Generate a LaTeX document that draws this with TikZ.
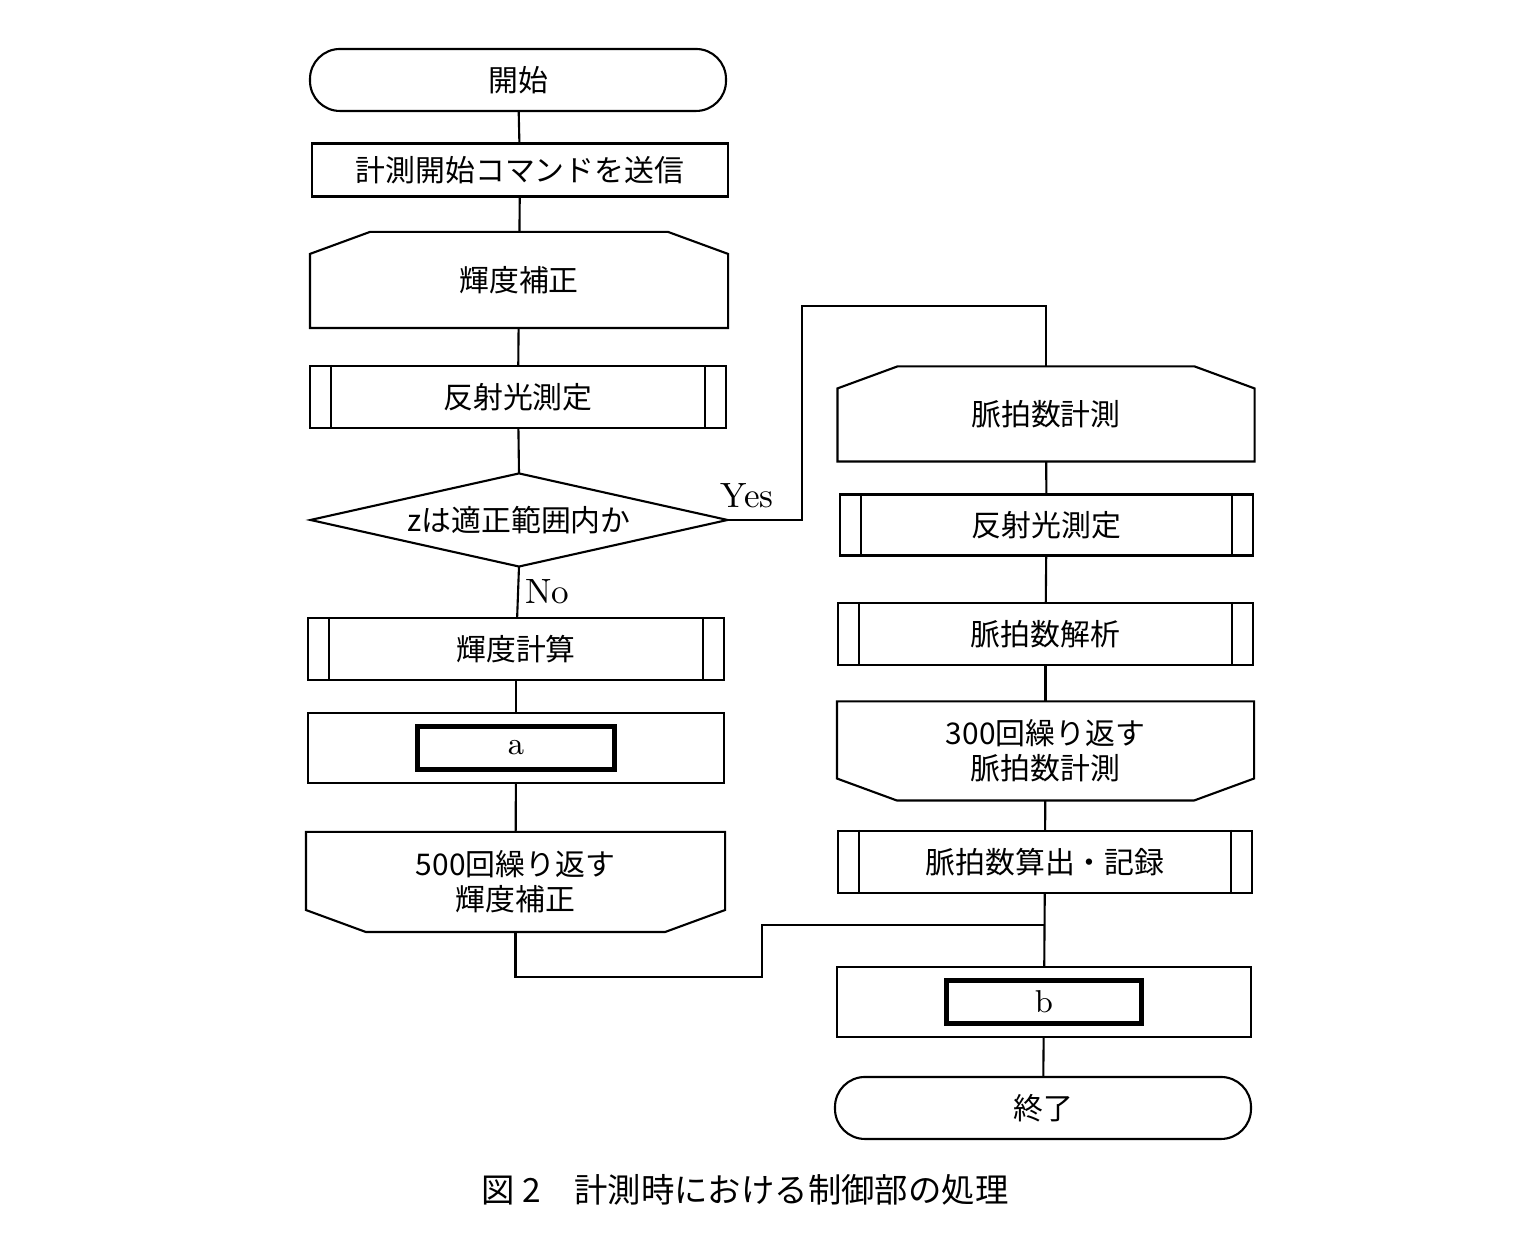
\documentclass[tikz,border=0pt]{standalone}
\usepackage{fontspec}
\newfontfamily\cjk{Noto Sans CJK JP}
\usetikzlibrary{positioning, calc}
\tikzset{
  box/.style={draw, line width=0.6pt, minimum width=4.16cm, minimum height=0.62cm, inner sep=0pt, font=\cjk\fontsize{8.5}{10}\selectfont, align=center},
  term/.style={box, rounded corners=3mm},
  outline/.style={box, draw=none},
  inbox/.style={draw, line width=1.5pt, minimum width=1.97cm, minimum height=0.43cm, inner sep=0pt, font=\fontsize{9}{10}\selectfont},
  lbl/.style={font=\fontsize{10}{12}\selectfont, inner sep=0pt},
}
\begin{document}
\begin{tikzpicture}[line width=0.6pt]
\useasboundingbox (0,0) rectangle (15.32,12.54);

% left column
\node[term] (start) at (5.18,11.74) {開始};
\node[box, minimum height=0.53cm] (send) at (5.20,10.84) {計測開始コマンドを送信};
\node[outline, minimum height=0.94cm] (lp1) at (5.19,9.74) {輝度補正};
\node[box] (ref1) at (5.18,8.57) {反射光測定};
\node[outline, minimum width=4.15cm, minimum height=0.91cm] (dec) at (5.19,7.34) {zは適正範囲内か};
\node[box] (lum) at (5.16,6.05) {輝度計算};
\node[box, minimum height=0.70cm] (a) at (5.16,5.06) {};
\node[inbox] (ain) at (a) {a};
\node[outline, minimum width=4.17cm, minimum height=0.98cm] (lp1e) at (5.155,3.72) {500回繰り返す\\輝度補正};

% right column
\node[outline, minimum width=4.15cm, minimum height=0.93cm] (lp2) at (10.46,8.40) {脈拍数計測};
\node[box, minimum width=4.13cm, minimum height=0.61cm] (ref2) at (10.465,7.29) {反射光測定};
\node[box, minimum width=4.15cm] (ana) at (10.455,6.20) {脈拍数解析};
\node[outline, minimum width=4.15cm, minimum height=0.97cm] (lp2e) at (10.455,5.03) {300回繰り返す\\脈拍数計測};
\node[box, minimum width=4.14cm] (calc) at (10.45,3.92) {脈拍数算出・記録};
\node[box, minimum width=4.14cm, minimum height=0.70cm] (b) at (10.44,2.52) {};
\node[inbox, minimum width=1.95cm] (bin) at (b) {b};
\node[term, minimum width=4.16cm] (end) at (10.43,1.46) {終了};

% loop limits
\foreach \n in {lp1, lp2}{
  \draw (\n.south west) -- ([yshift=-2.2mm]\n.north west) -- ([xshift=6mm]\n.north west)
    -- ([xshift=-6mm]\n.north east) -- ([yshift=-2.2mm]\n.north east) -- (\n.south east) -- cycle;
}
\foreach \n in {lp1e, lp2e}{
  \draw (\n.north west) -- ([yshift=2.2mm]\n.south west) -- ([xshift=6mm]\n.south west)
    -- ([xshift=-6mm]\n.south east) -- ([yshift=2.2mm]\n.south east) -- (\n.north east) -- cycle;
}
% predefined processes
\foreach \n in {ref1, lum, ref2, ana, calc}{
  \draw ([xshift=2.2mm]\n.north west) -- ([xshift=2.2mm]\n.south west);
  \draw ([xshift=-2.2mm]\n.north east) -- ([xshift=-2.2mm]\n.south east);
}
% decision
\draw (dec.west) -- (dec.north) -- (dec.east) -- (dec.south) -- cycle;

% connectors
\draw (start) -- (send);
\draw (send) -- (lp1);
\draw (lp1) -- (ref1);
\draw (ref1) -- (dec.north);
\draw (dec.south) -- (lum);
\draw (lum) -- (a);
\draw (a) -- (lp1e);
\coordinate (yt) at (8.02,9.48);
\draw (dec.east) -| (yt) -| (lp2.north);
\draw (lp2) -- (ref2);
\draw (ref2) -- (ana);
\draw (ana) -- (lp2e);
\draw (lp2e) -- (calc);
\draw (calc) -- (b);
\draw (b) -- (end);
\coordinate (j1) at (7.62,2.77);
\coordinate (j2) at (7.62,3.29);
\draw (lp1e.south) |- (j1) -- (j2) -- (j2 -| calc.south);

\node[lbl] (yes) at (7.47,7.58) {Yes};
\node[lbl] (no) at (5.47,6.62) {No};

\node[font=\cjk\fontsize{9.5}{11}\selectfont] (cap) at (7.45,0.64) {図 2\quad 計測時における制御部の処理};
\end{tikzpicture}
\end{document}
